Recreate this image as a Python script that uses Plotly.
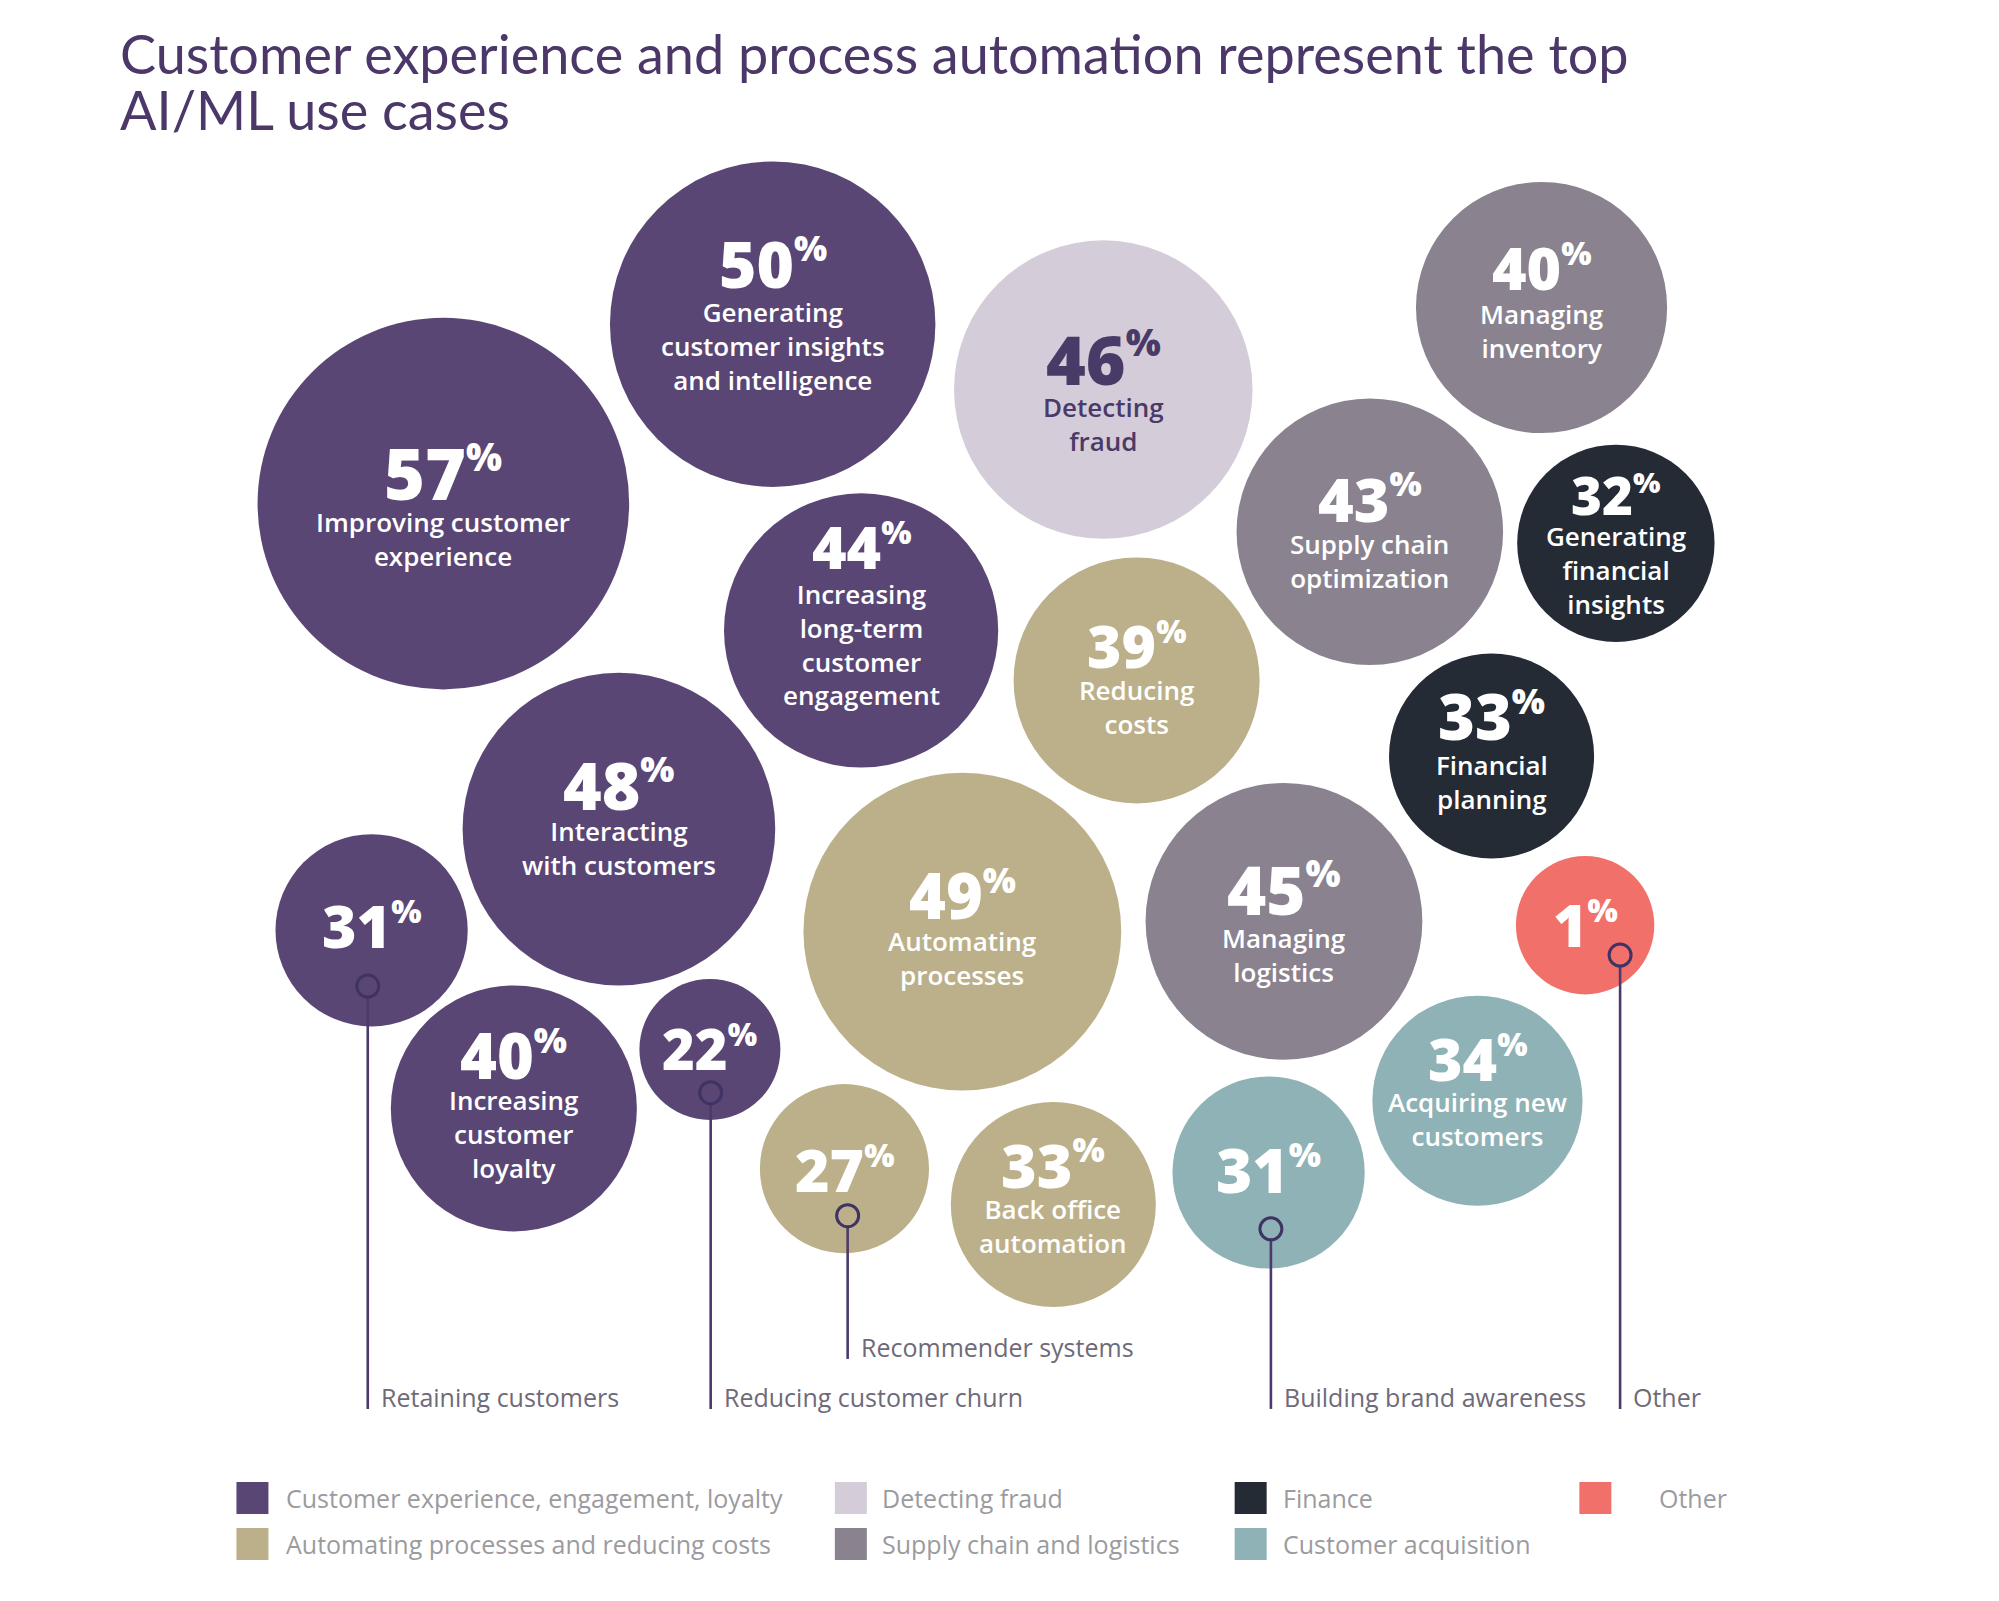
import plotly.graph_objects as go

# ---------------- data ----------------
title_lines = ["Customer experience and process automation represent the top",
               "AI/ML use cases"]

use_cases = [
    "Improving customer experience",
    "Generating customer insights and intelligence",
    "Detecting fraud",
    "Managing inventory",
    "Supply chain optimization",
    "Generating financial insights",
    "Increasing long-term customer engagement",
    "Reducing costs",
    "Financial planning",
    "Interacting with customers",
    "Retaining customers",
    "Automating processes",
    "Managing logistics",
    "Other",
    "Increasing customer loyalty",
    "Reducing customer churn",
    "Recommender systems",
    "Back office automation",
    "Building brand awareness",
    "Acquiring new customers",
]
values = [57, 50, 46, 40, 43, 32, 44, 39, 33, 48, 31, 49, 45, 1, 40, 22, 27, 33, 31, 34]
groups = ["cx", "cx", "fraud", "supply", "supply", "finance", "cx", "auto", "finance", "cx",
          "cx", "auto", "supply", "other", "cx", "cx", "auto", "auto", "acq", "acq"]
bubble_text = [
    "Improving customer<br>experience",
    "Generating<br>customer insights<br>and intelligence",
    "Detecting<br>fraud",
    "Managing<br>inventory",
    "Supply chain<br>optimization",
    "Generating<br>financial<br>insights",
    "Increasing<br>long-term<br>customer<br>engagement",
    "Reducing<br>costs",
    "Financial<br>planning",
    "Interacting<br>with customers",
    "",
    "Automating<br>processes",
    "Managing<br>logistics",
    "",
    "Increasing<br>customer<br>loyalty",
    "",
    "",
    "Back office<br>automation",
    "",
    "Acquiring new<br>customers",
]

legend_keys = ["cx", "auto", "fraud", "supply", "finance", "acq", "other"]
legend_names = {
    "cx": "Customer experience, engagement, loyalty",
    "auto": "Automating processes and reducing costs",
    "fraud": "Detecting fraud",
    "supply": "Supply chain and logistics",
    "finance": "Finance",
    "acq": "Customer acquisition",
    "other": "Other",
}

# ---------------- styles ----------------
colors = {
    "cx": "#5A4674",
    "auto": "#BCB08A",
    "fraud": "#D4CDD9",
    "supply": "#8A838F",
    "finance": "#252B34",
    "acq": "#8FB2B6",
    "other": "#F2706A",
}
text_on = {"fraud": "#4A3A68"}
TITLE_COLOR = "#4B3869"
LEADER_COLOR = "#4B3A6B"
RING_COLOR = "#3E3364"
LABEL_COLOR = "#6E6A78"
LEGEND_TEXT = "#9B9B9F"

# ---------------- layout (reference units; S converts to pixels) ----------------
S = 1999 / 1560
W_U, H_U = 1560, 1601 / S

cx = [346, 603, 861, 1203, 1069, 1261, 672, 887, 1164, 483,
      290, 751, 1002, 1237, 401, 554, 659, 822, 990, 1153]
cy = [393, 253, 304, 240, 415, 424, 492, 531, 590, 647,
      726, 727, 719, 722, 865, 819, 912, 940, 915, 859]
rad = [145, 127, 116.5, 98, 104, 77, 107, 96, 80, 122,
       75, 124, 108, 54, 96, 55, 66, 80, 75, 82]
num_y = [369, 206, 280, 208, 389, 386, 426, 503, 558, 612,
         722, 698, 694, 721, 823, 818, 912, 909, 912, 826]
num_fs = [70, 64, 68, 59, 61, 53, 59, 59, 63, 66,
          59, 63, 67, 59, 63, 56, 59, 61, 62, 59]
desc_y = [421, 270, 331, 258, 438, 445, 503, 552, 610, 662,
          0, 748, 745, 0, 885, 0, 0, 957, 0, 873]
DESC_FS = 26
PCT_RATIO = 0.55

# leader callouts: bubble index, ring position, label baseline
lead_idx = [10, 15, 16, 18, 13]
ring_x = [287, 554.6, 661.5, 991.8, 1264.3]
ring_y = [769.5, 852.7, 948.7, 959, 745.3]
lab_base = [1098, 1098, 1059, 1098, 1098]
LAB_FS = 25

# legend grid
leg_col_x = {"cx": 197, "auto": 197, "fraud": 664, "supply": 664,
             "finance": 976, "acq": 976, "other": 1245}
leg_row_y = {"cx": 1169, "auto": 1205, "fraud": 1169, "supply": 1205,
             "finance": 1169, "acq": 1205, "other": 1169}
leg_text_x = {"cx": 222, "auto": 222, "fraud": 687, "supply": 687,
              "finance": 1000, "acq": 1000, "other": 1293}
LEG_FS = 25
TITLE_FS = 54

fig = go.Figure()

# bubbles, one trace per group
for g in legend_keys:
    idx = [i for i, gg in enumerate(groups) if gg == g]
    fig.add_trace(go.Scatter(
        x=[cx[i] for i in idx], y=[cy[i] for i in idx],
        mode="markers",
        marker=dict(size=[2 * rad[i] * S for i in idx], sizemode="diameter",
                    color=colors[g], line=dict(width=0), opacity=1),
        name=legend_names[g], customdata=[values[i] for i in idx],
        text=[use_cases[i] for i in idx],
        hovertemplate="%{text}: %{customdata}%<extra></extra>",
        showlegend=False,
    ))

annotations = []
for i, v in enumerate(values):
    tc = text_on.get(groups[i], "white")
    pct_px = round(PCT_RATIO * num_fs[i])
    annotations.append(dict(
        x=cx[i], y=num_y[i], xref="x", yref="y", showarrow=False,
        text=f"{v}<sup><span style=\"font-size:{pct_px}px\">%</span></sup>",
        xanchor="center", yanchor="middle",
        font=dict(family="Open Sans", size=num_fs[i], color=tc, weight=800),
    ))
    if bubble_text[i]:
        annotations.append(dict(
            x=cx[i], y=desc_y[i], xref="x", yref="y", showarrow=False,
            text=bubble_text[i], xanchor="center", yanchor="middle", align="center",
            font=dict(family="Open Sans", size=DESC_FS, color=tc, weight=600),
        ))

# leader lines, rings and labels
RING_R = 12 / S
for k, bi in enumerate(lead_idx):
    fig.add_trace(go.Scatter(
        x=[ring_x[k], ring_x[k]], y=[ring_y[k] + RING_R, lab_base[k] + 1.5],
        mode="lines", line=dict(color=LEADER_COLOR, width=2.6),
        hoverinfo="skip", showlegend=False,
    ))
    fig.add_trace(go.Scatter(
        x=[ring_x[k]], y=[ring_y[k]], mode="markers",
        marker=dict(symbol="circle-open", size=22, color=RING_COLOR,
                    line=dict(width=3, color=RING_COLOR)),
        hoverinfo="skip", showlegend=False,
    ))
    annotations.append(dict(
        x=ring_x[k] + 8.6, y=lab_base[k] - 0.388 * LAB_FS / S, xref="x", yref="y",
        showarrow=False, text=use_cases[bi], xanchor="left", yanchor="middle",
        font=dict(family="Open Sans", size=LAB_FS, color=LABEL_COLOR),
    ))

# legend (squares + labels)
for g in legend_keys:
    fig.add_trace(go.Scatter(
        x=[leg_col_x[g]], y=[leg_row_y[g]], mode="markers",
        marker=dict(symbol="square", size=32, color=colors[g], line=dict(width=0)),
        hoverinfo="skip", showlegend=False,
    ))
    annotations.append(dict(
        x=leg_text_x[g], y=leg_row_y[g], xref="x", yref="y", showarrow=False,
        text=legend_names[g], xanchor="left", yanchor="middle",
        font=dict(family="Open Sans", size=LEG_FS, color=LEGEND_TEXT),
    ))

# title, two lines
for t, yb in zip(title_lines, [58, 102]):
    annotations.append(dict(
        x=92, y=yb - 0.387 * TITLE_FS / S, xref="x", yref="y", showarrow=False,
        text=t, xanchor="left", yanchor="middle",
        font=dict(family="Lato", size=TITLE_FS, color=TITLE_COLOR),
    ))

fig.update_layout(
    width=1999, height=1601,
    margin=dict(l=0, r=0, t=0, b=0),
    paper_bgcolor="white", plot_bgcolor="white",
    xaxis=dict(range=[0, W_U], visible=False, fixedrange=True),
    yaxis=dict(range=[H_U, 0], visible=False, fixedrange=True),
    showlegend=False,
    annotations=annotations,
)

fig.write_html("out.html",
               config={"displayModeBar": False},
               post_script="document.body.style.margin='0';document.body.style.overflow='hidden';")
